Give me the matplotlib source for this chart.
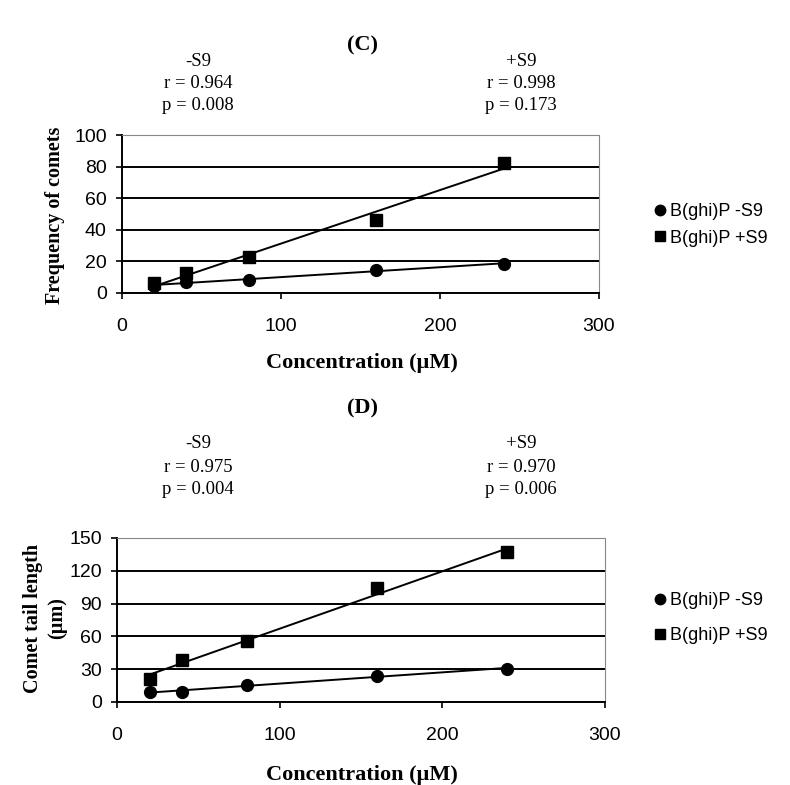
import numpy as np
import matplotlib
matplotlib.use("Agg")
import matplotlib.pyplot as plt
from matplotlib.lines import Line2D

# Concentrations (µM)
conc = [20, 40, 80, 160, 240]

# Panel C: frequency of comets
freq_minus = [4.4, 7.2, 8.2, 14.6, 18.4]
freq_plus = [6.1, 12.5, 22.6, 46.2, 82.5]

# Panel D: comet tail length (µm)
tail_minus = [8.8, 9.5, 15.5, 24.0, 30.5]
tail_plus = [21.0, 38.4, 55.8, 104.0, 137.0]

stats_c = [("-S9", "r = 0.964", "p = 0.008"), ("+S9", "r = 0.998", "p = 0.173")]
stats_d = [("-S9", "r = 0.975", "p = 0.004"), ("+S9", "r = 0.970", "p = 0.006")]

series_labels = ["B(ghi)P -S9", "B(ghi)P +S9"]

SERIF = "Liberation Serif"
SANS = "Liberation Sans"

W, H = 790, 785
fig = plt.figure(figsize=(W / 100, H / 100), dpi=100)


def fx(px):
    return px / W


def fy(py):
    return 1 - py / H


def make_axes(left, top, right, bottom):
    return fig.add_axes([fx(left), fy(bottom), fx(right) - fx(left), fy(top) - fy(bottom)])


def style_axes(ax, ymax, ystep):
    ax.set_xlim(0, 300)
    ax.set_ylim(0, ymax)
    ax.set_xticks([0, 100, 200, 300])
    ax.set_yticks(np.arange(0, ymax + 1, ystep))
    for s in ["top", "right"]:
        ax.spines[s].set_color("#888888")
        ax.spines[s].set_linestyle((0, (1, 1)))
        ax.spines[s].set_linewidth(0.8)
    for s in ["left", "bottom"]:
        ax.spines[s].set_color("black")
        ax.spines[s].set_linewidth(1.4)
    ax.tick_params(direction="out", length=4, width=1.2, labelsize=14)
    ax.tick_params(axis="x", pad=14)
    ax.tick_params(axis="y", pad=7)
    for lab in ax.get_xticklabels() + ax.get_yticklabels():
        lab.set_fontfamily(SANS)
    ax.yaxis.grid(True, color="black", linewidth=1.4)
    ax.get_ygridlines()[-1].set_visible(False)
    ax.set_axisbelow(True)


def plot_series(ax, y_minus, y_plus):
    x = np.array(conc, dtype=float)
    for y, marker, ms in [(y_minus, "o", 8.5), (y_plus, "s", 8.5)]:
        k, b = np.polyfit(x, y, 1)
        ax.plot([x[0], x[-1]], [k * x[0] + b, k * x[-1] + b], color="black", lw=1.4, zorder=3)
        ax.plot(x, y, linestyle="none", marker=marker, ms=ms, color="black", zorder=4)


def stats_text(stats, y0, step, xs=(198, 521)):
    for (lab, r, p), xc in zip(stats, xs):
        for i, t in enumerate([lab, r, p]):
            fig.text(fx(xc), fy(y0 + i * step), t, ha="center", va="center",
                     fontfamily=SERIF, fontsize=13.5)


def legend_at(yc, spacing):
    handles = [Line2D([], [], linestyle="none", marker="o", ms=7.5, color="black"),
               Line2D([], [], linestyle="none", marker="s", ms=7.5, color="black")]
    leg = fig.legend(handles, series_labels, loc="center left",
                     bbox_to_anchor=(fx(638), fy(yc)), frameon=False,
                     prop={"family": SANS, "size": 13}, handlelength=0.6,
                     handletextpad=0.3, labelspacing=spacing)
    return leg


# Panel C
axC = make_axes(122, 135, 599, 293)
plot_series(axC, freq_minus, freq_plus)
style_axes(axC, 100, 20)
fig.text(fx(363), fy(45), "(C)", ha="center", va="center", fontfamily=SERIF,
         fontweight="bold", fontsize=16)
stats_text(stats_c, 61, 22)
fig.text(fx(362), fy(363), "Concentration (\u00b5M)", ha="center", va="center",
         fontfamily=SERIF, fontweight="bold", fontsize=16)
fig.text(fx(55), fy(215), "Frequency of comets", ha="center", va="center", rotation=90,
         fontfamily=SERIF, fontweight="bold", fontsize=14.5)
legend_at(225, 0.5)

# Panel D
axD = make_axes(117, 538, 605, 702)
plot_series(axD, tail_minus, tail_plus)
style_axes(axD, 150, 30)
fig.text(fx(363), fy(408), "(D)", ha="center", va="center", fontfamily=SERIF,
         fontweight="bold", fontsize=16)
stats_text(stats_d, 444, 23)
fig.text(fx(362), fy(775), "Concentration (\u00b5M)", ha="center", va="center",
         fontfamily=SERIF, fontweight="bold", fontsize=16)
fig.text(fx(45), fy(618), "Comet tail length\n(\u00b5m)", ha="center", va="center",
         rotation=90, fontfamily=SERIF, fontweight="bold", fontsize=14.5, linespacing=1.3)
legend_at(618, 1.0)

fig.savefig("out.png", dpi=100)
